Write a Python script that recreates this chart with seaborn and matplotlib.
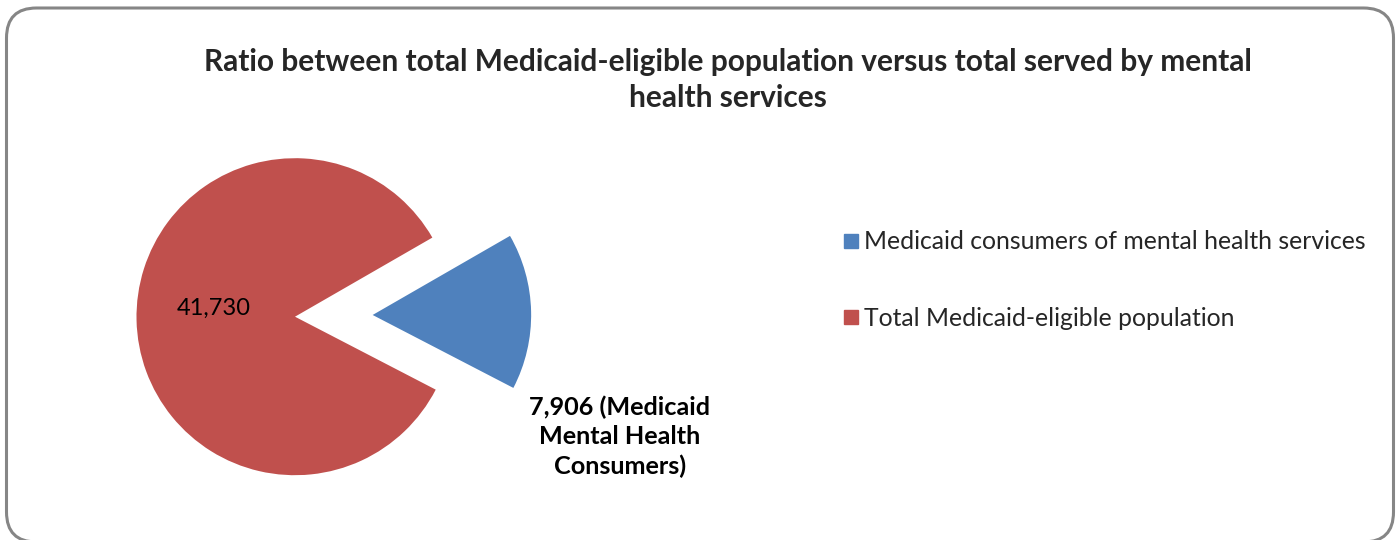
import matplotlib
matplotlib.use("Agg")
import matplotlib.pyplot as plt
import matplotlib.patches as mpatches
from matplotlib.lines import Line2D
import seaborn as sns

# Data
categories = ["Medicaid consumers of mental health services",
              "Total Medicaid-eligible population"]
values = [7906, 41730]
slice_labels = ["{:,} (Medicaid\nMental Health\nConsumers)".format(values[0]),
                "{:,}".format(values[1])]
title = ("Ratio between total Medicaid-eligible population versus total served by mental\n"
         "health services")

sns.set_theme(style="white")
plt.rcParams["font.family"] = ["Lato", "DejaVu Sans"]
colors = ["#4F81BD", "#C0504D"]

W, H = 1400, 540
fig = plt.figure(figsize=(W / 100, H / 100), dpi=100)

# Pie axes spans the whole figure; one data unit equals the pie radius
R_PX = 158.5
CX, CY = 295, H - 316.7
ax = fig.add_axes([0, 0, 1, 1])
wedges, _ = ax.pie(values, colors=colors, startangle=-27.4, counterclock=True,
                   explode=[0.49, 0], radius=1,
                   wedgeprops=dict(linewidth=0))
ax.set_aspect("auto")
ax.set_xlim(-CX / R_PX, (W - CX) / R_PX)
ax.set_ylim(-CY / R_PX, (H - CY) / R_PX)
ax.axis("off")

# Slice labels
ax.text(-0.51, 0.055, slice_labels[1], ha="center", va="center",
        fontsize=17, color="black")
ax.text(2.05, -0.759, slice_labels[0], ha="center", va="center",
        fontsize=18.2, fontweight="bold", color="black", linespacing=1.32)

# Title
fig.text(728 / W, 1 - 80 / H, title, ha="center", va="center",
         fontsize=21.5, fontweight="bold", linespacing=1.38)

# Legend
handles = [Line2D([0], [0], marker="s", linestyle="none", markersize=10,
                  markerfacecolor=c, markeredgecolor=c) for c in colors]
fig.legend(handles, categories, loc="center left",
           bbox_to_anchor=(832 / W, 1 - 280 / H), frameon=False,
           fontsize=17.8, handlelength=0.55, handletextpad=0.25,
           labelspacing=2.15, borderpad=0)

# Rounded chart border
border = mpatches.FancyBboxPatch((6.5, -2), 1387, H - 8 + 2,
                                 boxstyle="round,pad=0,rounding_size=30",
                                 facecolor="none", edgecolor="#868686",
                                 linewidth=2.2, transform=None)
fig.add_artist(border)

fig.savefig("out.png", dpi=100, facecolor="white")
